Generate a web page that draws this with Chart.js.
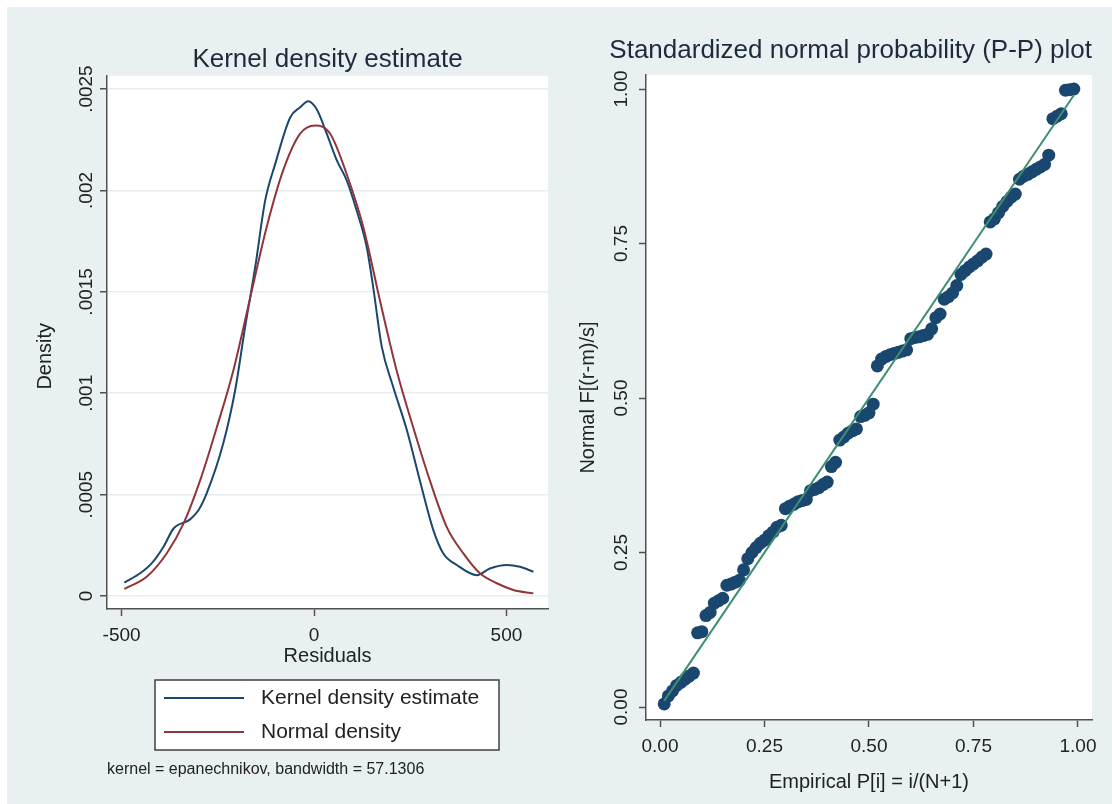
<!DOCTYPE html>
<html>
<head>
<meta charset="utf-8">
<script src="https://cdn.jsdelivr.net/npm/chart.js@4.4.1/dist/chart.umd.min.js"></script>
<style>
  html, body { margin: 0; padding: 0; background: #ffffff; }
  #wrap { position: absolute; left: 7px; top: 7px; width: 1105px; height: 797px; background: #e8f0f2; }
  #left { position: absolute; left: 0; top: 0; }
  #right { position: absolute; left: 560px; top: 0; }
</style>
</head>
<body>
<div id="wrap">
  <canvas id="left" width="560" height="797"></canvas>
  <canvas id="right" width="545" height="797"></canvas>
</div>
<script>
// valores
const kdeX = [-493, -452, -422, -391, -365, -322, -300, -279, -236, -205, -179, -153, -127, -101, -62, -36, -15, 7, 33, 59, 85, 111, 137, 154, 176, 206, 241, 275, 310, 336, 371, 423, 457, 501, 535, 570];
const kdeY = [0.000066, 0.000112, 0.000161, 0.000243, 0.000333, 0.000378, 0.000424, 0.000506, 0.000752, 0.001015, 0.001327, 0.00162, 0.00195, 0.00213, 0.00236, 0.00241, 0.00244, 0.0024, 0.00228, 0.00215, 0.00205, 0.0019, 0.00172, 0.00152, 0.00123, 0.00103, 0.00082, 0.00057, 0.000325, 0.00021, 0.000153, 0.000103, 0.000136, 0.000153, 0.000144, 0.00012];

const normX = [-493, -435, -383, -339, -296, -253, -210, -166, -123, -80, -36, 3, 42, 85, 128, 171, 215, 258, 301, 345, 388, 431, 475, 518, 570];
const normY = [0.000035, 0.000095, 0.00021, 0.000358, 0.00057, 0.00083, 0.00111, 0.00147, 0.00182, 0.0021, 0.00228, 0.00232, 0.00228, 0.00208, 0.00182, 0.00146, 0.00111, 0.00083, 0.00057, 0.00034, 0.00021, 0.000112, 0.000063, 0.00003, 0.000013];

const ppX = [
  0.01, 0.02, 0.03, 0.04, 0.05, 0.06, 0.07, 0.08, 0.09, 0.10,
  0.11, 0.12, 0.13, 0.14, 0.15, 0.16, 0.17, 0.18, 0.19, 0.20,
  0.21, 0.22, 0.23, 0.24, 0.25, 0.26, 0.27, 0.28, 0.29, 0.30,
  0.31, 0.32, 0.33, 0.34, 0.35, 0.36, 0.37, 0.38, 0.39, 0.40,
  0.41, 0.42, 0.43, 0.44, 0.45, 0.46, 0.47, 0.48, 0.49, 0.50,
  0.51, 0.52, 0.53, 0.54, 0.55, 0.56, 0.57, 0.58, 0.59, 0.60,
  0.61, 0.62, 0.63, 0.64, 0.65, 0.66, 0.67, 0.68, 0.69, 0.70,
  0.71, 0.72, 0.73, 0.74, 0.75, 0.76, 0.77, 0.78, 0.79, 0.80,
  0.81, 0.82, 0.83, 0.84, 0.85, 0.86, 0.87, 0.88, 0.89, 0.90,
  0.91, 0.92, 0.93, 0.94, 0.95, 0.96, 0.97, 0.98, 0.99
];
const ppY = [
  0.005, 0.018, 0.026, 0.035, 0.040, 0.045, 0.050, 0.055, 0.120, 0.122,
  0.148, 0.153, 0.168, 0.172, 0.176, 0.197, 0.199, 0.202, 0.205, 0.222,
  0.240, 0.250, 0.258, 0.265, 0.270, 0.277, 0.283, 0.291, 0.294, 0.321,
  0.325, 0.328, 0.332, 0.334, 0.336, 0.350, 0.352, 0.355, 0.360, 0.364,
  0.389, 0.396, 0.432, 0.437, 0.443, 0.447, 0.450, 0.470, 0.472, 0.476,
  0.490, 0.552, 0.563, 0.567, 0.570, 0.572, 0.574, 0.576, 0.578, 0.596,
  0.598, 0.599, 0.601, 0.603, 0.612, 0.630, 0.636, 0.660, 0.664, 0.670,
  0.682, 0.700, 0.706, 0.712, 0.717, 0.722, 0.728, 0.733, 0.785, 0.790,
  0.800, 0.810, 0.818, 0.825, 0.830, 0.854, 0.859, 0.862, 0.866, 0.870,
  0.874, 0.878, 0.893, 0.952, 0.956, 0.960, 0.998, 0.999, 1.000
];

// linea de referencia 45 grados
const refX = [0.01, 0.99];
const refY = [0.01, 0.99];

const densTicks = [0, 0.0005, 0.001, 0.0015, 0.002, 0.0025];
const densTickLabels = ["0", ".0005", ".001", ".0015", ".002", ".0025"];
const residTicks = [-500, 0, 500];
const residTickLabels = ["-500", "0", "500"];
const ppTicks = [0, 0.25, 0.5, 0.75, 1];
const ppTickLabels = ["0.00", "0.25", "0.50", "0.75", "1.00"];

const colors = {
  navy: "#1a476f",
  maroon: "#90353b",
  green: "#3e8e72",
  axis: "#505050",
  grid: "#e6eef1",
  text: "#222222",
  title: "#1e2b3a"
};

Chart.defaults.font.family = "'Liberation Sans', Arial, sans-serif";
Chart.defaults.color = colors.text;

const toPoints = (xs, ys) => xs.map((x, i) => ({ x: x, y: ys[i] }));
const setTicks = (values) => (scale) => {
  scale.ticks = values.map((v) => ({ value: v }));
};

// fondo blanco del area de trazado
const plotBg = {
  id: "plotBg",
  beforeDraw(chart) {
    const { ctx, chartArea: a } = chart;
    ctx.save();
    ctx.fillStyle = "#ffffff";
    ctx.fillRect(a.left, a.top, a.right - a.left, a.bottom - a.top);
    ctx.restore();
  }
};

// leyenda con recuadro, estilo stata
const boxLegend = {
  id: "boxLegend",
  afterDraw(chart, args, opts) {
    if (!opts.items) return;
    const ctx = chart.ctx;
    ctx.save();
    ctx.fillStyle = "#ffffff";
    ctx.fillRect(opts.left, opts.top, opts.width, opts.height);
    ctx.strokeStyle = "#404040";
    ctx.lineWidth = 1.5;
    ctx.strokeRect(opts.left, opts.top, opts.width, opts.height);
    opts.items.forEach((idx, i) => {
      const ds = chart.data.datasets[idx];
      const y = opts.top + opts.firstRow + i * opts.rowGap;
      ctx.strokeStyle = ds.borderColor;
      ctx.lineWidth = ds.borderWidth;
      ctx.beginPath();
      ctx.moveTo(opts.left + 9, y);
      ctx.lineTo(opts.left + 89, y);
      ctx.stroke();
      ctx.fillStyle = colors.text;
      ctx.font = "21px 'Liberation Sans', Arial, sans-serif";
      ctx.textBaseline = "middle";
      ctx.textAlign = "left";
      ctx.fillText(ds.label, opts.left + 106, y);
    });
    ctx.restore();
  }
};

const tickFont = { size: 19 };
const axTitleFont = { size: 20 };

// grafico izquierdo: densidad kernel
new Chart(document.getElementById("left"), {
  type: "line",
  data: {
    datasets: [
      {
        label: "Kernel density estimate",
        data: toPoints(kdeX, kdeY),
        borderColor: colors.navy,
        borderWidth: 2,
        pointRadius: 0,
        cubicInterpolationMode: "monotone",
        fill: false,
        order: 1
      },
      {
        label: "Normal density",
        data: toPoints(normX, normY),
        borderColor: colors.maroon,
        borderWidth: 2,
        pointRadius: 0,
        cubicInterpolationMode: "monotone",
        fill: false,
        order: 0
      }
    ]
  },
  options: {
    responsive: false,
    animation: false,
    events: [],
    layout: { autoPadding: false, padding: { left: 0, right: 19, top: 0, bottom: 0 } },
    plugins: {
      legend: { display: false },
      tooltip: { enabled: false },
      title: {
        display: true,
        text: "Kernel density estimate",
        fullSize: false,
        color: colors.title,
        font: { size: 26, weight: "normal", lineHeight: 1.2 },
        padding: { top: 37.5, bottom: 0 }
      },
      subtitle: {
        display: true,
        text: "kernel = epanechnikov, bandwidth = 57.1306",
        position: "bottom",
        align: "start",
        fullSize: false,
        color: colors.text,
        font: { size: 16, lineHeight: 1.2 },
        padding: { top: 81.4, bottom: 24.4 }
      },
      boxLegend: {
        items: [0, 1],
        left: 148,
        top: 673,
        width: 344,
        height: 70,
        firstRow: 18,
        rowGap: 34
      }
    },
    scales: {
      x: {
        type: "linear",
        min: -538,
        max: 608,
        afterBuildTicks: setTicks(residTicks),
        afterFit: (s) => { s.height = 70; },
        grid: { drawOnChartArea: false, drawTicks: true, tickLength: 7, tickColor: colors.axis, tickWidth: 1.5 },
        border: { display: true, color: colors.axis, width: 1.5 },
        ticks: {
          autoSkip: false,
          maxRotation: 0,
          padding: 8.6,
          font: tickFont,
          color: colors.text,
          callback: (v, i) => residTickLabels[i]
        },
        title: { display: true, text: "Residuals", font: axTitleFont, color: colors.text, padding: { top: 0, bottom: 11 } }
      },
      y: {
        type: "linear",
        min: -0.000064,
        max: 0.002566,
        afterBuildTicks: setTicks(densTicks),
        afterFit: (s) => { s.width = 100; },
        grid: { color: colors.grid, lineWidth: 1.5, drawTicks: true, tickLength: 7, tickColor: colors.axis, tickWidth: 1.5 },
        border: { display: true, color: colors.axis, width: 1.5 },
        ticks: {
          autoSkip: false,
          minRotation: 90,
          maxRotation: 90,
          crossAlign: "center",
          padding: -10.75,
          font: tickFont,
          color: colors.text,
          callback: (v, i) => densTickLabels[i]
        },
        // espacios al final para bajar un poco el titulo, como en stata
        title: { display: true, text: "Density     ", font: axTitleFont, color: colors.text, padding: { top: 26, bottom: 0 } }
      }
    }
  },
  plugins: [plotBg, boxLegend]
});

// grafico derecho: P-P normal estandarizado
new Chart(document.getElementById("right"), {
  type: "scatter",
  data: {
    datasets: [
      {
        label: "Reference",
        data: toPoints(refX, refY),
        showLine: true,
        borderColor: colors.green,
        borderWidth: 2,
        pointRadius: 0,
        order: 0
      },
      {
        label: "Normal F[(r-m)/s]",
        data: toPoints(ppX, ppY),
        backgroundColor: colors.navy,
        borderColor: colors.navy,
        borderWidth: 0,
        pointRadius: 6.5,
        order: 1
      }
    ]
  },
  options: {
    responsive: false,
    animation: false,
    events: [],
    layout: { autoPadding: false, padding: { left: 0, right: 20, top: 0, bottom: 0 } },
    plugins: {
      legend: { display: false },
      tooltip: { enabled: false },
      title: {
        display: true,
        text: "Standardized normal probability (P-P) plot",
        fullSize: true,
        align: "end",
        color: colors.title,
        font: { size: 26, weight: "normal", lineHeight: 1.2 },
        padding: { top: 28.4, bottom: 8.4 }
      }
    },
    scales: {
      x: {
        type: "linear",
        min: -0.0335,
        max: 1.0335,
        afterBuildTicks: setTicks(ppTicks),
        afterFit: (s) => { s.height = 84; },
        grid: { drawOnChartArea: false, drawTicks: true, tickLength: 7, tickColor: colors.axis, tickWidth: 1.5 },
        border: { display: true, color: colors.axis, width: 1.5 },
        ticks: {
          autoSkip: false,
          maxRotation: 0,
          padding: 8.6,
          font: tickFont,
          color: colors.text,
          callback: (v, i) => ppTickLabels[i]
        },
        title: { display: true, text: "Empirical P[i] = i/(N+1)", font: axTitleFont, color: colors.text, padding: { top: 0, bottom: 10 } }
      },
      y: {
        type: "linear",
        min: -0.021,
        max: 1.0227,
        afterBuildTicks: setTicks(ppTicks),
        afterFit: (s) => { s.width = 79; },
        grid: { drawOnChartArea: false, drawTicks: true, tickLength: 7, tickColor: colors.axis, tickWidth: 1.5 },
        border: { display: true, color: colors.axis, width: 1.5 },
        ticks: {
          autoSkip: false,
          minRotation: 90,
          maxRotation: 90,
          crossAlign: "center",
          padding: -1.5,
          font: tickFont,
          color: colors.text,
          callback: (v, i) => ppTickLabels[i]
        },
        title: { display: true, text: "Normal F[(r-m)/s]", font: axTitleFont, color: colors.text, padding: { top: 9, bottom: 0 } }
      }
    }
  },
  plugins: [plotBg]
});
</script>
</body>
</html>
